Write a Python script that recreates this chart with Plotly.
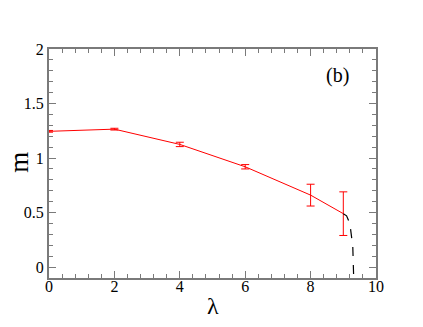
import plotly.graph_objects as go

# simulation points with error bars
lam = [0, 2, 4, 6, 8, 9]
m = [1.245, 1.265, 1.125, 0.92, 0.66, 0.49]
m_err = [0.008, 0.008, 0.02, 0.02, 0.10, 0.20]

# dashed extrapolation near the transition
lam_fit = [9.0, 9.1, 9.2, 9.25, 9.29, 9.32]
m_fit = [0.49, 0.47, 0.40, 0.30, 0.19, -0.12]

serif = "Liberation Serif"
frame = "#7a7a7a"

fig = go.Figure()
fig.add_trace(go.Scatter(
    x=lam, y=m, mode="lines", line=dict(color="red", width=1),
    error_y=dict(type="data", array=m_err, color="red", thickness=1, width=4),
    showlegend=False))
fig.add_trace(go.Scatter(
    x=lam_fit, y=m_fit, mode="lines", line=dict(color="black", width=1.2, dash="dash"),
    showlegend=False))

axis_common = dict(
    showgrid=False, zeroline=False, showline=True, linecolor=frame, linewidth=2,
    mirror="allticks", ticks="inside", ticklen=7, tickwidth=1, tickcolor=frame,
    tickfont=dict(family=serif, size=16, color="black"), automargin=False,
)
fig.update_xaxes(range=[0, 10], dtick=2, tick0=0, ticklabelstandoff=-7,
                 minor=dict(dtick=0.4, ticks="inside", ticklen=4, tickcolor=frame),
                 **axis_common)
fig.update_yaxes(range=[-0.1, 2], dtick=0.5, tick0=0,
                 minor=dict(dtick=0.1, ticks="inside", ticklen=4, tickcolor=frame),
                 **axis_common)

fig.add_annotation(x=0.881, y=0.884, xref="paper", yref="paper", text="(b)",
                   xanchor="center", yanchor="middle",
                   showarrow=False, font=dict(family=serif, size=20, color="black"))
# axis titles
fig.add_annotation(x=-0.092, y=0.507, xref="paper", yref="paper", text="m", textangle=-90,
                   xanchor="center", yanchor="middle",
                   showarrow=False, font=dict(family=serif, size=27, color="black"))
fig.add_annotation(x=0.5, y=-0.122, xref="paper", yref="paper", text="λ",
                   xanchor="center", yanchor="middle",
                   showarrow=False, font=dict(family=serif, size=24, color="black"))

fig.update_layout(width=423, height=327, margin=dict(l=49, r=47, t=49, b=49),
                  font=dict(family=serif, color="black"),
                  plot_bgcolor="white", paper_bgcolor="white")

# drop the default 8px body margin so the figure sits at the page corner
fig.write_html("out.html", config={"displayModeBar": False},
               post_script="document.body.style.margin='0';")
